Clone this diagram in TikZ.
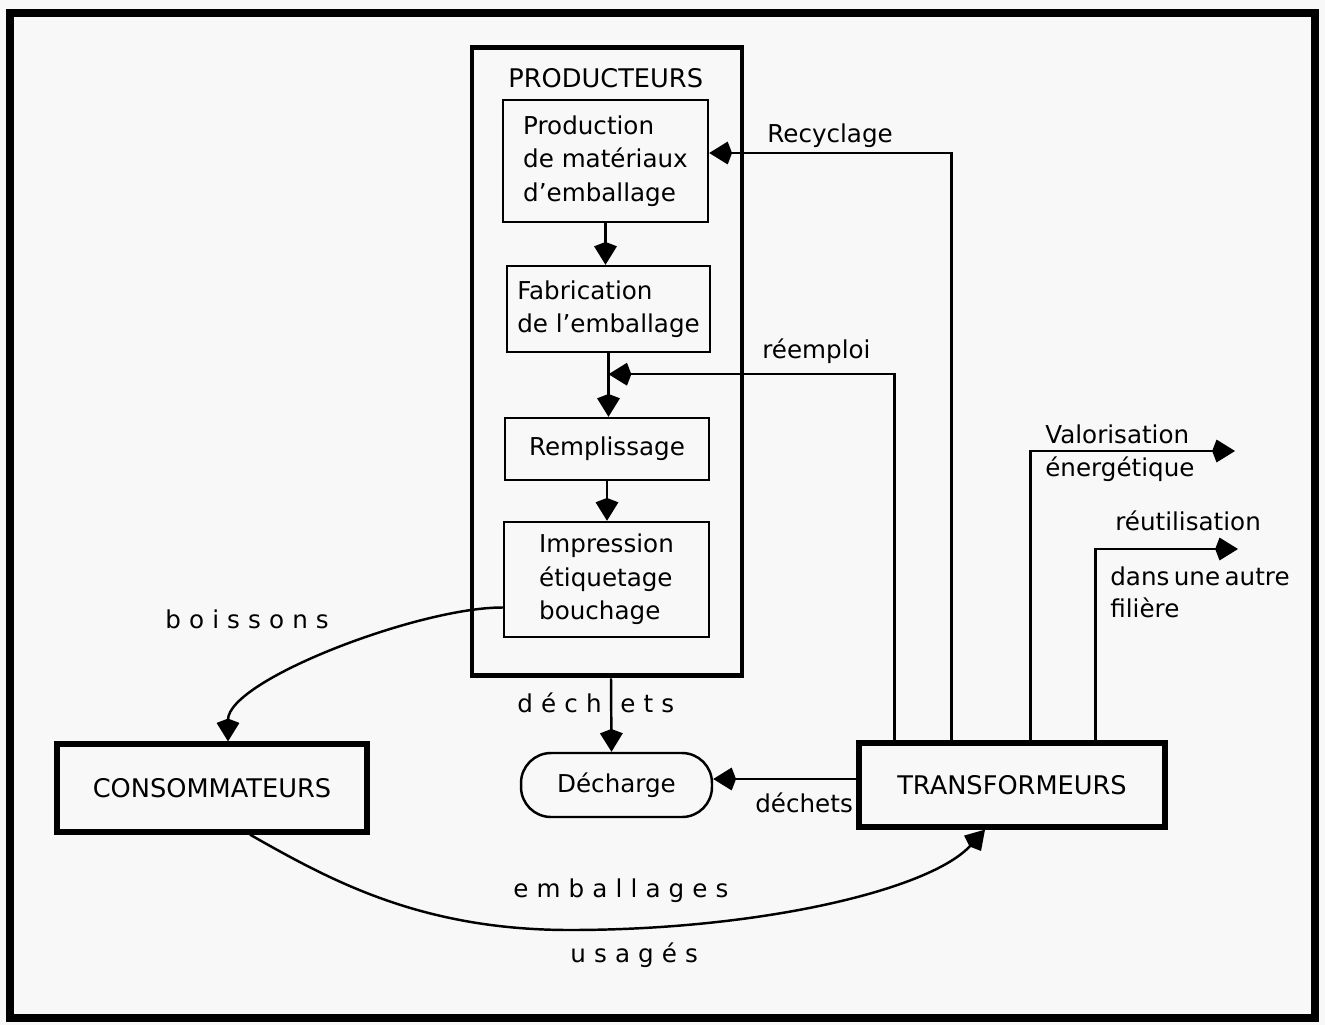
\documentclass[tikz,border=0pt]{standalone}
\usepackage{fontspec}
\setmainfont{DejaVu Sans}
\usetikzlibrary{arrows.meta,calc}
\definecolor{paper}{RGB}{248,248,248}
\tikzset{
  every node/.style={font=\fontsize{14}{19}\selectfont, inner sep=0pt},
  capsfont/.style={font=\fontsize{14.6}{19}\selectfont},
  stagebox/.style={draw, line width=1.4pt, align=left},
  actorbox/.style={draw, line width=3pt, capsfont},
  flow/.style={line width=1.4pt, -{Kite[length=13pt,width=13pt,inset=2.5pt]}},
  spaced/.style={font=\fontsize{14}{19}\selectfont\addfontfeature{LetterSpace=33}},
  lbl/.style={anchor=base west},
}
\begin{document}
\begin{tikzpicture}[x=0.02cm,y=-0.02cm]
  % page and frame
  \fill[paper] (0,0) rectangle (1325,1025);
  \useasboundingbox (0,0) rectangle (1325,1025);
  \draw[line width=4.5pt] (10,13) rectangle (1315,1018);

  % producers block
  \node (prod) [actorbox, line width=2.8pt, minimum width=5.4cm, minimum height=12.58cm] at (607,361.5) {};
  \node (prodtitle) [lbl, capsfont] at (508,87) {PRODUCTEURS};
  \node (b1) [stagebox, minimum width=4.1cm, minimum height=2.44cm] at (605.5,161)
    {Production\\de matériaux\\d'emballage};
  \node (b2) [stagebox, minimum width=4.06cm, minimum height=1.72cm] at (608.5,309)
    {Fabrication\\de l'emballage};
  \node (b3) [stagebox, minimum width=4.08cm, minimum height=1.24cm] at (607,449)
    {Remplissage};
  \node (b4) [stagebox, minimum width=4.1cm, minimum height=2.3cm] at (606.5,579.5)
    {Impression\\étiquetage\\bouchage};

  % other actors
  \node (conso) [actorbox, minimum width=6.2cm, minimum height=1.76cm] at (212,788)
    {CONSOMMATEURS};
  \node (transf) [actorbox, minimum width=6.12cm, minimum height=1.68cm] at (1012,785)
    {TRANSFORMEURS};
  \node (decharge) [draw, line width=1.4pt, rounded corners=0.6cm,
    minimum width=3.82cm, minimum height=1.28cm] at (616.5,785) {Décharge};

  % chain inside the producers block
  \coordinate (reJoin) at ($(b2.south)+(0,21)$);
  \draw[flow] (b1.south) -- (b1.south |- b2.north);
  \draw[flow] (b2.south) -- (b2.south |- b3.north);
  \draw[flow] (b3.south) -- (b3.south |- b4.north);

  % return flows from the transformers
  \draw[flow] ($(transf.north west)+(95,0)$) |- ($(b1.east)+(0,-8)$);
  \draw[flow] ($(transf.north west)+(38,0)$) |- (reJoin);
  \coordinate (valEnd) at (1235,451);
  \coordinate (reutEnd) at (1238,549);
  \draw[flow] ($(transf.north west)+(174,0)$) |- (valEnd);
  \draw[flow] ($(transf.north west)+(239,0)$) |- (reutEnd);

  % waste flows
  \draw[flow] ($(transf.west)+(0,-6)$) -- ($(decharge.east)+(0,-6)$);
  \draw[flow] ($(prod.south)+(4,0)$) -- ($(decharge.north)+(-5,0)$);

  % products to consumers, used packaging to transformers
  \draw[flow] ($(b4.west)+(0,28)$) .. controls (420,607) and (228,680) .. ($(conso.north)+(16,0)$);
  \draw[flow] ($(conso.south)+(38,0)$) .. controls (330,880) and (420,930) .. (570,930)
     .. controls (760,930) and (930,890) .. ($(transf.south)+(-27,0)$);

  % flow labels
  \node (lRec) [lbl] at (767,142) {Recyclage};
  \node (lReemp) [lbl] at (762,358) {réemploi};
  \node (lVal) [lbl] at (1045,443) {Valorisation};
  \node (lEner) [lbl] at (1045,476) {énergétique};
  \node (lReut) [lbl] at (1115,530) {réutilisation};
  \node (lAutre) [lbl] at (1110,585) {\spaceskip=0.18em dans une autre};
  \node (lFil) [lbl] at (1110,617) {filière};
  \node (lDechB) [lbl] at (755,812) {déchets};
  \node (lBois) [lbl, spaced] at (165,628) {boissons};
  \node (lDechA) [lbl, spaced, anchor=base east] at (602,712) {déch};
  \node (lDechA2) [lbl, spaced] at (620,712) {ets};
  \node (lEmb) [lbl, spaced] at (513,897) {emballages};
  \node (lUsa) [lbl, spaced] at (570,962) {usagés};
\end{tikzpicture}
\end{document}
